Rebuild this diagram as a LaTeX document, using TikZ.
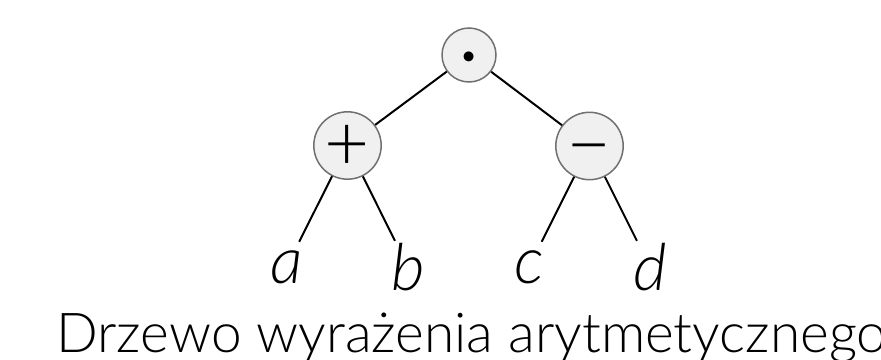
\documentclass[tikz,border=0pt]{standalone}
\usepackage{fontspec}
\setmainfont{Lato Light}[ItalicFont={Lato Light Italic}]
\newfontfamily\opfont{Lato}
\definecolor{opfill}{HTML}{F0F0F0}
\definecolor{opdraw}{HTML}{707070}
\begin{document}
\begin{tikzpicture}[x=1pt,y=-1pt,
  op/.style={circle,draw=opdraw,line width=1.5pt,fill=opfill,inner sep=0pt,text depth=0pt},
  leaf/.style={circle,inner sep=0pt,minimum size=56pt,font=\fontsize{65}{65}\selectfont\itshape},
  edge/.style={line width=2pt,black}]
\useasboundingbox (0,0) rectangle (881,359);
\node[op,minimum size=54pt,font=\fontsize{66}{66}\selectfont\opfont,text height=42pt] (root) at (469,55) {·};
\node[op,minimum size=62pt,font=\fontsize{78}{78}\selectfont,text height=50pt] (plus) at (347.5,145.5) {+};
\node[op,minimum size=65pt,font=\fontsize{78}{78}\selectfont,text height=50pt] (minus) at (589.5,146) {−};
\node[leaf] (a) at (286.5,267) {a};
\node[leaf] (b) at (408,267) {b};
\node[leaf] (c) at (529,267) {c};
\node[leaf] (d) at (650,267) {d};
\node[anchor=base west,inner sep=0pt,font=\fontsize{55}{55}\selectfont] (title) at (56,352.3) {Drzewo wyrażenia arytmetycznego};
\draw[edge] (root) -- (plus);
\draw[edge] (root) -- (minus);
\draw[edge] (plus) -- (a);
\draw[edge] (plus) -- (b);
\draw[edge] (minus) -- (c);
\draw[edge] (minus) -- (d);
\end{tikzpicture}
\end{document}
